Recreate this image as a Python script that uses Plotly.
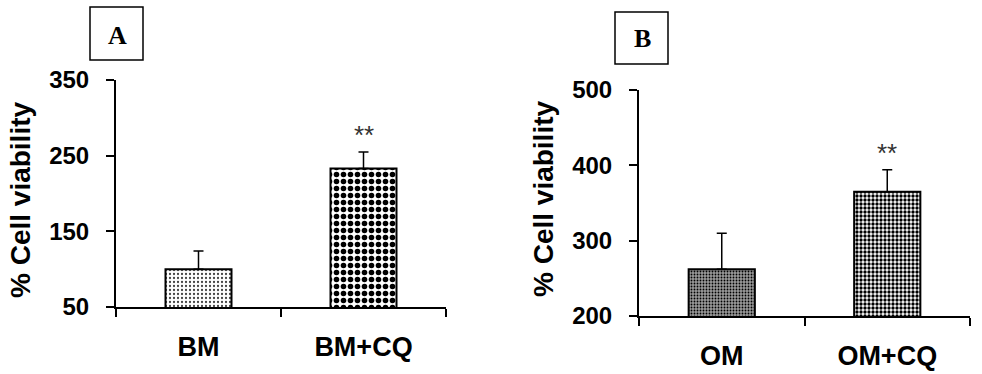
import plotly.graph_objects as go

# Panel A data
cats_a = ["BM", "BM+CQ"]
vals_a = [100, 233]
err_a = [24, 22]
sig_a = ["", "**"]

# Panel B data
cats_b = ["OM", "OM+CQ"]
vals_b = [262, 365]
err_b = [48, 29]
sig_b = ["", "**"]

yticks_a = [50, 150, 250, 350]
yticks_b = [200, 300, 400, 500]

W, H = 982, 374

def px_x(x):
    return x / W

def px_y(y):
    return (H - y) / H

fig = go.Figure()

pat_a = [
    dict(shape=".", fgcolor="#444", bgcolor="#ffffff", size=4, solidity=0.25),
    dict(shape=".", fgcolor="#000", bgcolor="#ffffff", size=7, solidity=0.5),
]
pat_b = [
    dict(shape=".", fgcolor="#000", bgcolor="#9a9a9a", size=3, solidity=0.3),
    dict(shape=".", fgcolor="#000", bgcolor="#ffffff", size=4, solidity=0.55),
]

def pattern(p):
    return dict(shape=[q["shape"] for q in p], fgcolor=[q["fgcolor"] for q in p],
                bgcolor=[q["bgcolor"] for q in p], size=[q["size"] for q in p],
                solidity=[q["solidity"] for q in p], fillmode="replace")

fig.add_trace(go.Bar(
    x=cats_a, y=vals_a, width=0.4, xaxis="x", yaxis="y",
    marker=dict(color="white", line=dict(color="black", width=2), pattern=pattern(pat_a)),
    error_y=dict(type="data", symmetric=False, array=err_a, arrayminus=[0, 0],
                 color="black", thickness=1.5, width=5),
    showlegend=False,
))
fig.add_trace(go.Bar(
    x=cats_b, y=vals_b, width=0.4, xaxis="x2", yaxis="y2",
    marker=dict(color="white", line=dict(color="black", width=2), pattern=pattern(pat_b)),
    error_y=dict(type="data", symmetric=False, array=err_b, arrayminus=[0, 0],
                 color="black", thickness=1.5, width=5),
    showlegend=False,
))

tickfont = dict(family="Liberation Sans, Arial", size=24, color="black", weight="bold")
catfont = dict(family="Liberation Sans, Arial", size=27, color="black", weight="bold")

xcommon = dict(type="category", tickson="boundaries", ticks="outside", ticklen=8,
               tickwidth=2, tickcolor="black", showline=True, linecolor="black",
               linewidth=2, showgrid=False, zeroline=False, tickfont=catfont,
               ticklabelstandoff=15, range=[-0.5, 1.5])
ycommon = dict(ticks="outside", ticklen=8, tickwidth=2, tickcolor="black",
               showline=True, linecolor="black", linewidth=2, showgrid=False,
               zeroline=False, tickfont=tickfont, ticklabelstandoff=12)

fig.update_layout(
    width=W, height=H, margin=dict(l=0, r=0, t=0, b=0, autoexpand=False),
    paper_bgcolor="white", plot_bgcolor="white", showlegend=False,
    xaxis=dict(xcommon, domain=[px_x(116), px_x(446)], anchor="y"),
    yaxis=dict(ycommon, domain=[px_y(307), px_y(80)], range=[50, 350],
               tickvals=yticks_a, anchor="x"),
    xaxis2=dict(xcommon, domain=[px_x(639), px_x(970)], anchor="y2"),
    yaxis2=dict(ycommon, domain=[px_y(316), px_y(90)], range=[200, 500],
                tickvals=yticks_b, anchor="x2"),
)

annots = []
titlefont = dict(family="Liberation Sans, Arial", size=28, color="black", weight="bold")
annots.append(dict(x=px_x(21), y=px_y(200), xref="paper", yref="paper",
                   text="% Cell viability", textangle=-90, showarrow=False,
                   font=titlefont, xanchor="center", yanchor="middle"))
annots.append(dict(x=px_x(543), y=px_y(199), xref="paper", yref="paper",
                   text="% Cell viability", textangle=-90, showarrow=False,
                   font=titlefont, xanchor="center", yanchor="middle"))
starfont = dict(family="Liberation Sans, Arial", size=26, color="#333")
for c, v, e, s in zip(cats_a, vals_a, err_a, sig_a):
    if s:
        annots.append(dict(x=c, y=v + e, xref="x", yref="y", text=s, showarrow=False,
                           font=starfont, yanchor="bottom", yshift=0))
for c, v, e, s in zip(cats_b, vals_b, err_b, sig_b):
    if s:
        annots.append(dict(x=c, y=v + e, xref="x2", yref="y2", text=s, showarrow=False,
                           font=starfont, yanchor="bottom", yshift=0))
letterfont = dict(family="Liberation Serif, Times New Roman", size=26, color="black", weight="bold")
annots.append(dict(x=px_x(117), y=px_y(35), xref="paper", yref="paper", text="A",
                   showarrow=False, font=letterfont, xanchor="center", yanchor="middle"))
annots.append(dict(x=px_x(642), y=px_y(39), xref="paper", yref="paper", text="B",
                   showarrow=False, font=letterfont, xanchor="center", yanchor="middle"))
fig.update_layout(annotations=annots)

shapes = [
    dict(type="rect", xref="paper", yref="paper", x0=px_x(90), x1=px_x(143),
         y0=px_y(60), y1=px_y(7), line=dict(color="black", width=1.5)),
    dict(type="rect", xref="paper", yref="paper", x0=px_x(615), x1=px_x(668),
         y0=px_y(64), y1=px_y(12), line=dict(color="black", width=1.5)),
]
fig.update_layout(shapes=shapes)

fig.write_html("out.html", config={"displayModeBar": False},
               post_script="document.body.style.margin='0';")
